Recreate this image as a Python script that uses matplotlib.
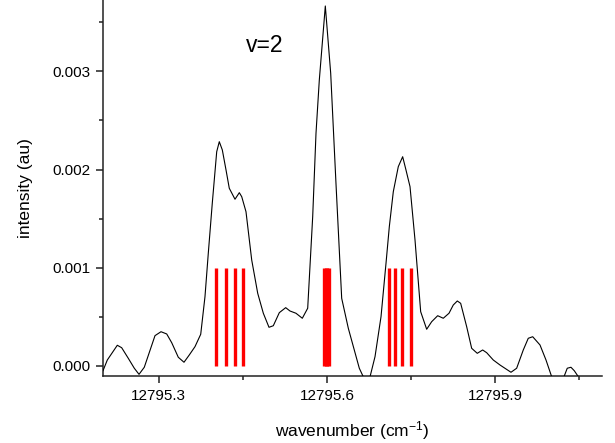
import matplotlib
matplotlib.use("Agg")
import matplotlib.pyplot as plt
from matplotlib.ticker import FixedLocator

plt.rcParams['font.family'] = ['Liberation Sans', 'DejaVu Sans']
plt.rcParams['mathtext.default'] = 'regular'

# Measured spectrum (wavenumber in cm^-1, intensity in au)
wavenumber = [12795.2007, 12795.2084, 12795.2262, 12795.2340, 12795.2458, 12795.2565,
              12795.2649, 12795.2743, 12795.2934, 12795.3041, 12795.3143, 12795.3232,
              12795.3349, 12795.3451, 12795.3545, 12795.3647, 12795.3749, 12795.3825,
              12795.3884, 12795.3955, 12795.4034, 12795.4080, 12795.4134, 12795.4200,
              12795.4258, 12795.4360, 12795.4437, 12795.4480, 12795.4556, 12795.4658,
              12795.4765, 12795.4865, 12795.4966, 12795.5043, 12795.5150, 12795.5264,
              12795.5340, 12795.5447, 12795.5560, 12795.5656, 12795.5745, 12795.5804,
              12795.5863, 12795.5970, 12795.6066, 12795.6160, 12795.6262, 12795.6380,
              12795.6576, 12795.6647, 12795.6767, 12795.6856, 12795.6963, 12795.7052,
              12795.7111, 12795.7182, 12795.7271, 12795.7349, 12795.7408, 12795.7480,
              12795.7569, 12795.7670, 12795.7777, 12795.7866, 12795.7973, 12795.8073,
              12795.8175, 12795.8251, 12795.8323, 12795.8383, 12795.8490, 12795.8579,
              12795.8679, 12795.8775, 12795.8847, 12795.8964, 12795.9084, 12795.9280,
              12795.9381, 12795.9499, 12795.9588, 12795.9667, 12795.9797, 12795.9904,
              12796.0005, 12796.0118, 12796.0225, 12796.0283, 12796.0349, 12796.0408,
              12796.0480, 12796.0688, 12796.0897]
intensity = [-0.000048, 0.000061, 0.000211, 0.000186, 0.000078, -0.000023,
             -0.000085, -0.000013, 0.000309, 0.000349, 0.000326, 0.000237,
             0.000089, 0.000038, 0.000112, 0.000197, 0.000323, 0.000706,
             0.001148, 0.001657, 0.002182, 0.002284, 0.002200, 0.001996,
             0.001810, 0.001698, 0.001765, 0.001724, 0.001571, 0.001079,
             0.000740, 0.000537, 0.000394, 0.000410, 0.000543, 0.000594,
             0.000560, 0.000537, 0.000486, 0.000588, 0.001520, 0.002370,
             0.002912, 0.003666, 0.002981, 0.001861, 0.000689, 0.000384,
             -0.000023, -0.000110, -0.000110, 0.000095, 0.000502, 0.001046,
             0.001419, 0.001775, 0.002030, 0.002131, 0.001996, 0.001826,
             0.001283, 0.000553, 0.000374, 0.000451, 0.000512, 0.000486,
             0.000537, 0.000621, 0.000662, 0.000638, 0.000400, 0.000180,
             0.000129, 0.000163, 0.000135, 0.000061, 0.000010, -0.000064,
             -0.000023, 0.000163, 0.000282, 0.000298, 0.000214, 0.000061,
             -0.000109, -0.000180, -0.000109, -0.000023, -0.000013, -0.000048,
             -0.000109, -0.000180, -0.000180]

# Calculated line positions (stick spectrum)
stick_positions = [12795.4020, 12795.4200, 12795.4365, 12795.4500,
                   12795.5943, 12795.5975, 12795.6007, 12795.6039,
                   12795.7105, 12795.7207, 12795.7342, 12795.7506]
stick_height = 0.001

x_ticks = [12795.3, 12795.6, 12795.9]
x_ticklabels = ['12795.3', '12795.6', '12795.9']
y_ticks = [0.000, 0.001, 0.002, 0.003]
y_ticklabels = ['0.000', '0.001', '0.002', '0.003']

fig = plt.figure(figsize=(6.15, 4.43), dpi=100)
ax = fig.add_axes([103/615, 1 - 376/443, (601.7 - 103)/615, 376/443])

ax.vlines(stick_positions, 0, stick_height, colors='#ff0000', linewidth=2.4, zorder=2)
ax.plot(wavenumber, intensity, color='black', linewidth=0.8, zorder=3)

ax.set_xlim(12795.2007, 12796.0897)
ax.set_ylim(-0.000102, 0.003727)

ax.xaxis.set_major_locator(FixedLocator(x_ticks))
ax.set_xticklabels(x_ticklabels)
ax.xaxis.set_minor_locator(FixedLocator([12795.45, 12795.75, 12796.05]))
ax.yaxis.set_major_locator(FixedLocator(y_ticks))
ax.set_yticklabels(y_ticklabels)
ax.yaxis.set_minor_locator(FixedLocator([0.0005, 0.0015, 0.0025, 0.0035]))

for s in ['top', 'right']:
    ax.spines[s].set_visible(False)
for s in ['left', 'bottom']:
    ax.spines[s].set_linewidth(1.1)
    ax.spines[s].set_color('#222222')

ax.tick_params(which='major', direction='out', length=5, width=1.1, labelsize=11, pad=4, color='#222222')
ax.tick_params(which='minor', direction='out', length=3, width=1.1, color='#222222')

ax.set_xlabel('wavenumber (cm$^{-1}$)', fontsize=12.5, labelpad=12)
ax.set_ylabel('intensity (au)', fontsize=12.5, labelpad=14)

ax.text(12795.4895, 0.003264, 'v=2', fontsize=16.5, ha='center', va='center')

fig.savefig('out.png', dpi=100)
